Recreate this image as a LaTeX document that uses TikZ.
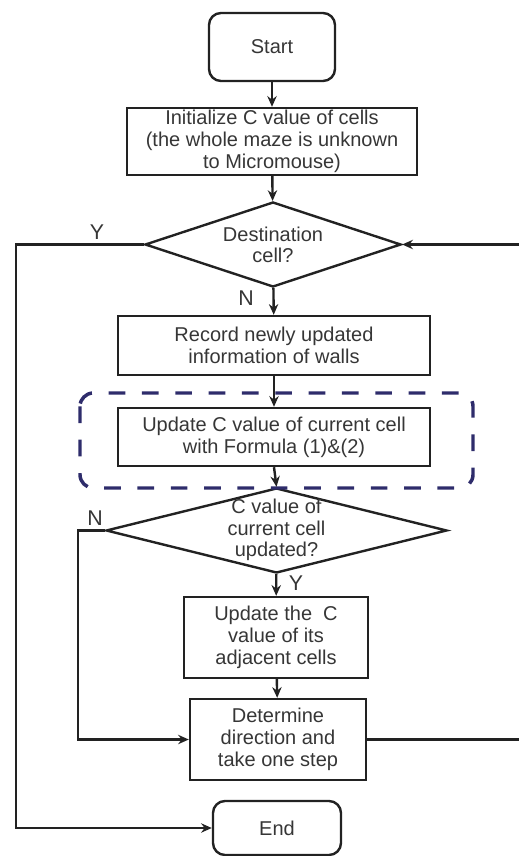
\documentclass[tikz,border=0pt]{standalone}
\usepackage{fontspec}
\setmainfont{Liberation Sans}
\usetikzlibrary{shapes.geometric,arrows.meta}
\definecolor{boxtext}{HTML}{363636}
\definecolor{linegray}{HTML}{222222}
\definecolor{dashnavy}{HTML}{2E2C6B}

\tikzset{
  flowbox/.style={draw=linegray,line width=1.8pt,rectangle,inner sep=0pt,align=center,text=boxtext,font=\fontsize{15}{16.5}\selectfont},
  termbox/.style={flowbox,rounded corners=9pt},
  choice/.style={draw=linegray,line width=1.8pt,diamond,inner sep=0pt},
  choicetext/.style={align=center,text=boxtext,inner sep=0pt,font=\fontsize{15}{16}\selectfont},
  flow/.style={draw=linegray,line width=1.8pt,-{Stealth[length=8pt,width=7pt]}},
  yn/.style={text=boxtext,inner sep=0pt,font=\fontsize{16}{18}\selectfont}
}

\begin{document}
\begin{tikzpicture}[x=0.75pt,y=0.75pt,yscale=-1,xscale=1]
%set diagram to the 518 x 856 frame
\useasboundingbox (0,0) rectangle (518,856);

%Flowchart: Terminal
\node[termbox,minimum width=94.5pt,minimum height=51pt] (start) at (272,47) {Start};
%Flowchart: Process
\node[flowbox,minimum width=217.5pt,minimum height=50.25pt] (init) at (272,141.5) {Initialize C value of cells\\(the whole maze is unknown\\to Micromouse)};
%Flowchart: Decision
\node[choice,minimum width=192pt,minimum height=63.75pt] (dest) at (273,244.5) {};
\node[choicetext] (desttxt) at (273,245) {Destination\\cell?};
%Flowchart: Process
\node[flowbox,minimum width=234pt,minimum height=44.25pt] (rec) at (274,345.5) {Record newly updated\\information of walls};
%Flowchart: Process
\node[flowbox,minimum width=234pt,minimum height=43.5pt] (upd) at (274,437) {Update C value of current cell\\with Formula (1)\&(2)};
%Flowchart: Decision
\node[choice,minimum width=255.75pt,minimum height=63.75pt] (chk) at (276.5,530.5) {};
\node[choicetext] (chktxt) at (276.5,530) {C value of\\current cell\\updated?};
%Flowchart: Process
\node[flowbox,minimum width=138pt,minimum height=60.75pt] (adj) at (276,637.5) {Update the\ \ C\\value of its\\adjacent cells};
%Flowchart: Process
\node[flowbox,minimum width=132pt,minimum height=60.75pt] (move) at (278,739.5) {Determine\\direction and\\take one step};
%Flowchart: Terminal
\node[termbox,minimum width=96pt,minimum height=40.5pt] (end) at (277,828) {End};

%Dashed frame round the formula step
\draw[dashnavy,line width=2.6pt,dash pattern=on 12.5pt off 12.5pt,rounded corners=10pt] (80,393) rectangle (473,488);

% Text Node
\node[yn] (ydest) at (97,232) {Y};
% Text Node
\node[yn] (ndest) at (246,298) {N};
% Text Node
\node[yn] (nchk) at (95,518) {N};
% Text Node
\node[yn] (ychk) at (296,583) {Y};

%Turning points
\coordinate (yleft) at (16,828);
\coordinate (nleft) at (78,739.5);
\coordinate (rtop) at (530,244.5);

%Connectors
\draw[flow] (start) -- (init);
\draw[flow] (init) -- (dest);
\draw[flow] (dest) -- (rec);
\draw[flow] (rec) -- (upd);
\draw[flow] (upd.south) -- (chk.north);
\draw[flow] (chk) -- (adj);
\draw[flow] (adj) -- (move);
\draw[flow] (dest.west) -| (yleft) -- (end.west);
\draw[flow] (chk.west) -| (nleft) -- (move.west);
\draw[flow] (move.east) -| (rtop) -- (dest.east);

\end{tikzpicture}
\end{document}
